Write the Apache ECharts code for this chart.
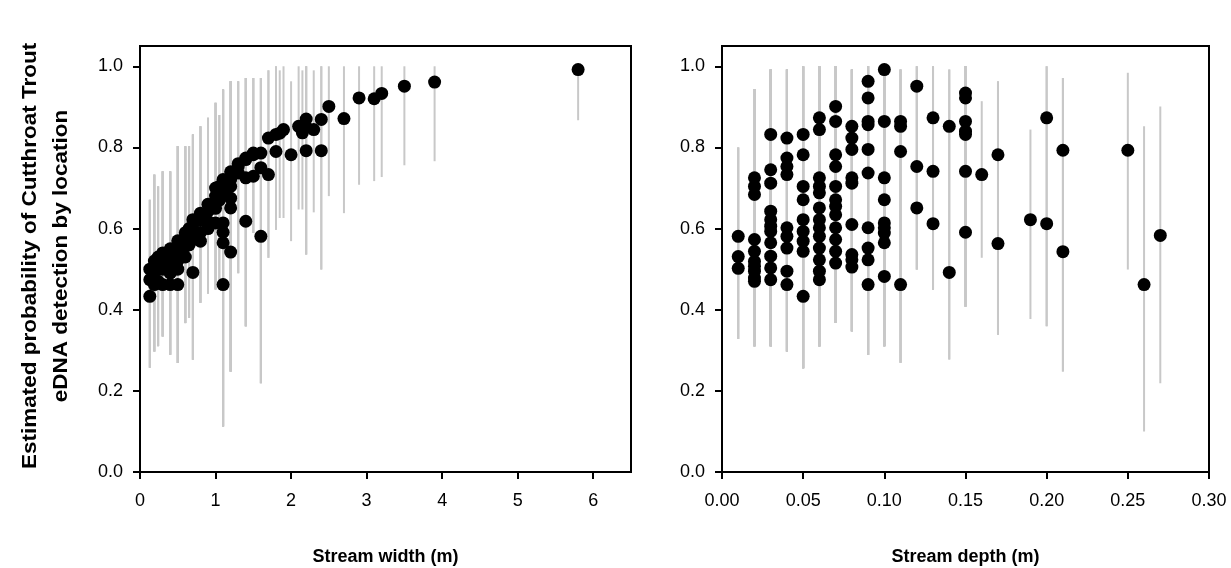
<!DOCTYPE html>
<html>
<head>
<meta charset="utf-8">
<script src="https://cdn.jsdelivr.net/npm/echarts@6/dist/echarts.min.js"></script>
<style>
html,body{margin:0;padding:0;background:#fff;}
#chart{width:1231px;height:568px;}
</style>
</head>
<body>
<div id="chart"></div>
<script>
// ---- Left panel: stream width (m) ----
const widthLevels = [0.13,0.19,0.24,0.30,0.40,0.50,0.60,0.65,0.70,0.80,0.90,1.00,1.05,1.10,1.20,1.30,1.40,1.50,1.60,1.70,
  1.80,1.85,1.90,2.00,2.10,2.15,2.20,2.30,2.40,2.50,2.70,2.90,3.10,3.20,3.50,3.90,5.80];
const widthProbs = [
  [0.433,0.474,0.50],
  [0.462,0.474,0.50,0.52],
  [0.47,0.50,0.53],
  [0.462,0.50,0.52,0.54],
  [0.462,0.49,0.51,0.53,0.55],
  [0.462,0.50,0.52,0.54,0.56,0.57],
  [0.53,0.556,0.58,0.59],
  [0.56,0.597,0.60],
  [0.492,0.573,0.60,0.622],
  [0.569,0.59,0.62,0.638],
  [0.60,0.618,0.643,0.66],
  [0.614,0.65,0.68,0.70],
  [0.67,0.704],
  [0.462,0.565,0.591,0.614,0.69,0.721],
  [0.542,0.651,0.675,0.704,0.721,0.74],
  [0.737,0.753,0.76],
  [0.618,0.725,0.77,0.774],
  [0.729,0.782,0.786],
  [0.581,0.75,0.786],
  [0.733,0.823],
  [0.79,0.832],
  [0.835],
  [0.844],
  [0.782],
  [0.852],
  [0.836],
  [0.792,0.85,0.870],
  [0.844],
  [0.792,0.869],
  [0.901],
  [0.871],
  [0.922],
  [0.920],
  [0.933],
  [0.951],
  [0.961],
  [0.992]
];
const widthLower = [0.257,0.297,0.31,0.334,0.289,0.269,0.367,0.38,0.277,0.417,0.44,0.45,0.47,0.112,0.248,0.49,0.359,0.589,0.219,0.528,
  0.597,0.626,0.626,0.569,0.647,0.647,0.536,0.64,0.499,0.68,0.638,0.708,0.717,0.727,0.756,0.766,0.867];
const widthUpper = [0.671,0.733,0.704,0.741,0.741,0.803,0.803,0.803,0.832,0.852,0.873,0.91,0.88,0.943,0.963,0.963,0.971,0.971,0.971,0.99,
  1.0,0.99,1.0,0.963,1.0,0.99,1.0,0.99,1.0,1.0,1.0,1.0,1.0,1.0,1.0,1.0,1.0];

// ---- Right panel: stream depth (m) ----
const depthLevels = [0.01,0.02,0.03,0.04,0.05,0.06,0.07,0.08,0.09,0.10,0.11,0.12,0.13,0.14,0.15,0.16,0.17,0.19,0.20,0.21,0.25,0.26,0.27];
const depthProbs = [
  [0.581,0.531,0.502],
  [0.725,0.704,0.684,0.573,0.544,0.519,0.507,0.495,0.478,0.470],
  [0.832,0.745,0.712,0.643,0.622,0.606,0.593,0.565,0.532,0.503,0.474],
  [0.823,0.774,0.753,0.733,0.602,0.581,0.552,0.495,0.462],
  [0.832,0.782,0.704,0.671,0.622,0.593,0.569,0.544,0.433],
  [0.873,0.844,0.725,0.704,0.688,0.651,0.622,0.602,0.581,0.552,0.523,0.495,0.474],
  [0.901,0.864,0.782,0.753,0.704,0.671,0.655,0.634,0.602,0.573,0.544,0.515],
  [0.852,0.823,0.795,0.725,0.712,0.610,0.536,0.523,0.505],
  [0.963,0.922,0.864,0.856,0.795,0.737,0.602,0.552,0.523,0.462],
  [0.992,0.864,0.725,0.671,0.614,0.602,0.589,0.565,0.482],
  [0.864,0.852,0.790,0.462],
  [0.951,0.753,0.651],
  [0.873,0.741,0.612],
  [0.852,0.492],
  [0.934,0.922,0.864,0.840,0.832,0.741,0.591],
  [0.733],
  [0.782,0.563],
  [0.622],
  [0.873,0.612],
  [0.793,0.543],
  [0.793],
  [0.462],
  [0.583]
];
const depthLower = [0.328,0.31,0.31,0.297,0.256,0.31,0.367,0.347,0.289,0.31,0.269,0.499,0.449,0.277,0.408,0.528,0.338,0.377,0.359,0.248,0.499,0.100,0.219];
const depthUpper = [0.80,0.943,0.992,0.992,1.0,1.0,1.0,0.992,1.0,1.0,0.992,1.0,1.0,0.992,1.0,0.914,0.963,0.844,1.0,0.971,0.984,0.852,0.901];

// tick labels
const yTicks = [0,0.2,0.4,0.6,0.8,1.0];
const widthTicks = [0,1,2,3,4,5,6];
const depthTicks = [0,0.05,0.10,0.15,0.20,0.25,0.30];

// ---- build data ----
function buildData(levels, probs, lower, upper){
  const out = [];
  levels.forEach((x,j)=>{ probs[j].forEach(p=>out.push([x, p, lower[j], upper[j]])); });
  return out;
}
const widthData = buildData(widthLevels, widthProbs, widthLower, widthUpper);
const depthData = buildData(depthLevels, depthProbs, depthLower, depthUpper);

const FONT = 'Liberation Sans, Arial, sans-serif';
const chart = echarts.init(document.getElementById('chart'), null, {renderer:'canvas'});

function errRender(params, api){
  const x = api.value(0);
  const a = api.coord([x, api.value(2)]);
  const b = api.coord([x, api.value(3)]);
  return {type:'line', shape:{x1:a[0],y1:a[1],x2:b[0],y2:b[1]},
    style:{stroke:'#c8c8c8', lineWidth:2}};
}

function xAxisCfg(gi, max, ticks, dec, name){
  return {
    type:'value', gridIndex:gi, min:0, max:max,
    name:name, nameLocation:'middle', nameGap:76,
    nameTextStyle:{fontFamily:FONT, fontSize:18, fontWeight:'bold', color:'#000'},
    axisLine:{show:true, onZero:false, lineStyle:{color:'#000', width:2}},
    axisTick:{show:true, inside:false, length:7, lineStyle:{color:'#000', width:2}, customValues:ticks},
    axisLabel:{show:true, margin:20, fontFamily:FONT, fontSize:18, color:'#000', customValues:ticks,
      formatter:v=>v.toFixed(dec)},
    splitLine:{show:false}
  };
}
function yAxisCfg(gi){
  return {
    type:'value', gridIndex:gi, min:0, max:1.05,
    axisLine:{show:true, onZero:false, lineStyle:{color:'#000', width:2}},
    axisTick:{show:true, inside:false, length:7, lineStyle:{color:'#000', width:2}, customValues:yTicks},
    axisLabel:{show:true, margin:17, fontFamily:FONT, fontSize:18, color:'#000', customValues:yTicks,
      formatter:v=>v.toFixed(1)},
    splitLine:{show:false}
  };
}

chart.setOption({
  animation:false,
  backgroundColor:'#fff',
  grid:[
    {left:140, top:46, width:491, height:426, show:true, borderColor:'#000', borderWidth:2,
      backgroundColor:'transparent', containLabel:false, outerBoundsMode:'none'},
    {left:722, top:46, width:487, height:426, show:true, borderColor:'#000', borderWidth:2,
      backgroundColor:'transparent', containLabel:false, outerBoundsMode:'none'}
  ],
  xAxis:[
    xAxisCfg(0, 6.5, widthTicks, 0, 'Stream width (m)'),
    xAxisCfg(1, 0.30, depthTicks, 2, 'Stream depth (m)')
  ],
  yAxis:[yAxisCfg(0), yAxisCfg(1)],
  graphic:[{
    type:'text', x:46, y:256, rotation:Math.PI/2, scaleX:1.25, scaleY:1.1,
    style:{text:'Estimated probability of Cutthroat Trout\neDNA detection by location',
      font:'bold 18px '+FONT, fill:'#000', align:'center', verticalAlign:'middle', lineHeight:29}
  }],
  series:[
    {type:'custom', xAxisIndex:0, yAxisIndex:0, data:widthData, renderItem:errRender, z:1, silent:true,
      encode:{x:0, y:[1,2,3]}},
    {type:'scatter', xAxisIndex:0, yAxisIndex:0, data:widthData.map(d=>[d[0],d[1]]), symbolSize:13,
      itemStyle:{color:'#000', opacity:1}, z:2, silent:true},
    {type:'custom', xAxisIndex:1, yAxisIndex:1, data:depthData, renderItem:errRender, z:1, silent:true,
      encode:{x:0, y:[1,2,3]}},
    {type:'scatter', xAxisIndex:1, yAxisIndex:1, data:depthData.map(d=>[d[0],d[1]]), symbolSize:13,
      itemStyle:{color:'#000', opacity:1}, z:2, silent:true}
  ]
});
</script>
</body>
</html>
